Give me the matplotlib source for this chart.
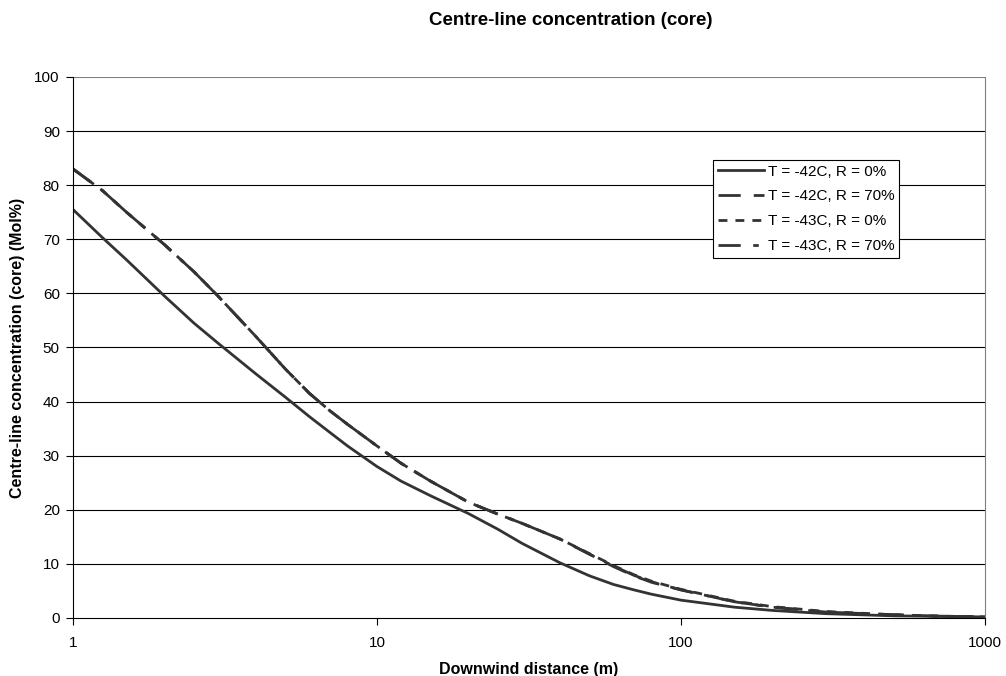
import matplotlib
matplotlib.use("Agg")
import matplotlib.pyplot as plt

plt.rcParams.update({
    "font.family": ["Liberation Sans", "DejaVu Sans"],
    "font.size": 11,
})

# ── Data ──────────────────────────────────────────────────────────────────────
DIST = [1, 1.25, 1.5, 2, 2.5, 3, 4, 5, 6, 7, 8, 10, 12, 15, 20, 25, 30, 40, 50,
        60, 70, 80, 100, 150, 200, 300, 500, 700, 1000]

T42_R0  = [75.5, 70.3, 66.2, 59.5, 54.5, 50.8, 45.1, 40.8, 37.2, 34.3, 31.8, 28.0, 25.3,
           22.6, 19.3, 16.4, 13.8, 10.2, 7.8, 6.2, 5.2, 4.4, 3.3, 2.0, 1.4, 0.8, 0.4, 0.3, 0.2]
T42_R70 = [83.0, 79.0, 75.0, 69.0, 64.0, 59.5, 52.0, 46.0, 41.5, 38.3, 35.8, 31.8, 28.6,
           25.3, 21.4, 19.2, 17.5, 14.6, 11.8, 9.5, 7.8, 6.6, 5.2, 3.0, 2.0, 1.1, 0.6, 0.35, 0.2]
T43_R0  = [83.0, 79.0, 75.0, 69.0, 64.0, 59.5, 52.0, 46.0, 41.5, 38.3, 35.8, 31.8, 28.6,
           25.3, 21.4, 19.2, 17.5, 14.6, 11.9, 9.7, 8.0, 6.8, 5.3, 3.1, 2.1, 1.2, 0.6, 0.35, 0.2]
T43_R70 = [83.0, 79.0, 75.0, 69.0, 64.0, 59.5, 52.0, 46.0, 41.5, 38.3, 35.8, 31.8, 28.6,
           25.3, 21.4, 19.2, 17.5, 14.6, 11.8, 9.6, 7.9, 6.7, 5.2, 3.0, 2.0, 1.1, 0.6, 0.35, 0.2]

LABELS = ["T = -42C, R = 0%", "T = -42C, R = 70%", "T = -43C, R = 0%", "T = -43C, R = 70%"]
STYLES = ["-", (0, (8, 4.7)), (0, (3.2, 2.9)), (0, (8, 4.5, 2, 4.5))]
LINE_COLOR = "#333333"

fig = plt.figure(figsize=(10.06, 6.76), dpi=100)
ax = fig.add_axes([0.0726, 0.0858, 0.9064, 0.8003])

for ys, lab, ls in zip([T42_R0, T42_R70, T43_R0, T43_R70], LABELS, STYLES):
    ax.plot(DIST, ys, color=LINE_COLOR, linestyle=ls, linewidth=2.0, label=lab)

ax.set_xscale("log")
ax.set_xlim(1, 1000)
ax.set_ylim(0, 100)
ax.set_xticks([1, 10, 100, 1000])
ax.set_xticklabels(["1", "10", "100", "1000"])
ax.minorticks_off()
ax.set_yticks(range(0, 101, 10))

# horizontal gridlines: black, top one grey
for v in range(10, 91, 10):
    ax.axhline(v, color="black", linewidth=0.8, zorder=0)
ax.axhline(100, color="#808080", linewidth=1.5, zorder=0)

ax.spines["left"].set_color("black")
ax.spines["bottom"].set_color("black")
ax.spines["right"].set_color("#808080")
ax.spines["top"].set_visible(False)
ax.tick_params(direction="out", length=5, width=0.8, labelsize=11)
ax.tick_params(axis="x", pad=8)
ax.tick_params(axis="y", pad=4.5)

ax.set_xlabel("Downwind distance (m)", fontweight="bold", fontsize=11.5, labelpad=8.5)
ax.set_ylabel("Centre-line concentration (core) (Mol%)", fontweight="bold", fontsize=11.5,
              labelpad=6.5)
fig.text(0.567, 0.970, "Centre-line concentration (core)", fontweight="bold",
         fontsize=13.5, ha="center", va="center")

leg = ax.legend(loc="upper left", bbox_to_anchor=(0.702, 0.8466), fontsize=11,
                frameon=True, fancybox=False, edgecolor="black", framealpha=1,
                handlelength=3.0, handletextpad=0.26, labelspacing=0.71,
                borderpad=0.3, borderaxespad=0)
leg.get_frame().set_linewidth(0.8)

fig.savefig("out.png", dpi=100)
